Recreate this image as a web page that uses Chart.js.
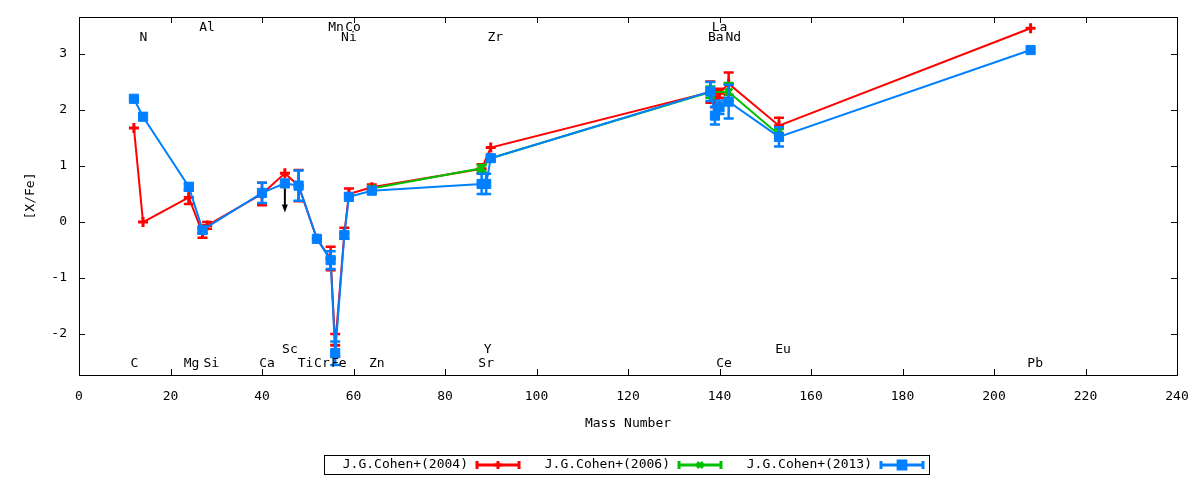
<!DOCTYPE html>
<html>
<head>
<meta charset="utf-8">
<script src="https://cdn.jsdelivr.net/npm/chart.js@4.4.0/dist/chart.umd.min.js"></script>
<style>
  html, body { margin: 0; padding: 0; background: #fff; }
</style>
</head>
<body>
<canvas id="chart" width="1200" height="480"></canvas>
<script>
// [X/Fe] against mass number, three abundance studies of one star

const FONT = '"DejaVu Sans Mono", monospace';

// J.G.Cohen+(2004)
const cohen2004Mass = [12, 14, 24, 27, 28, 40, 45, 48, 52, 55, 56, 58, 59, 64, 88, 90, 138, 139, 140, 142, 153, 208];
const cohen2004Val  = [1.68, 0.0, 0.44, -0.2, -0.06, 0.5, 0.87, 0.65, -0.3, -0.65, -2.2, -0.2, 0.5, 0.62, 0.95, 1.33, 2.32, 2.2, 2.3, 2.47, 1.72, 3.46];
const cohen2004Err  = [0, 0, 0.12, 0.08, 0.06, 0.2, 0, 0.28, 0, 0.21, 0.2, 0.1, 0.1, 0.05, 0.08, 0, 0.19, 0.15, 0.08, 0.2, 0.14, 0];

// J.G.Cohen+(2006)
const cohen2006Mass = [64, 88, 90, 138, 142, 153];
const cohen2006Val  = [0.6, 0.96, 1.14, 2.32, 2.32, 1.56];
const cohen2006Err  = [0, 0.06, 0, 0.1, 0.16, 0.1];

// J.G.Cohen+(2013)
const cohen2013Mass = [12, 14, 24, 27, 40, 45, 48, 52, 55, 56, 58, 59, 64, 88, 89, 90, 138, 139, 140, 142, 153, 208];
const cohen2013Val  = [2.2, 1.88, 0.63, -0.14, 0.52, 0.69, 0.65, -0.3, -0.68, -2.34, -0.23, 0.45, 0.56, 0.68, 0.68, 1.14, 2.33, 1.9, 2.05, 2.15, 1.52, 3.07];
const cohen2013Err  = [0, 0, 0.06, 0.05, 0.18, 0, 0.27, 0, 0.16, 0.21, 0, 0, 0, 0.18, 0.18, 0.05, 0.17, 0.16, 0.12, 0.3, 0.17, 0];

// upper limit (arrow) at Sc
const limitMass = [45];
const limitVal  = [0.6];

// element names written along top and bottom of the plot
const elemNames  = ['C', 'N', 'Mg', 'Al', 'Si', 'Ca', 'Sc', 'Ti', 'Cr', 'Mn', 'Fe', 'Ni', 'Co', 'Zn', 'Sr', 'Y', 'Zr', 'Ba', 'La', 'Ce', 'Nd', 'Eu', 'Pb'];
const elemLabelX = [12.1, 14.1, 24.6, 28.0, 28.9, 41.1, 46.1, 49.5, 53.1, 56.2, 56.8, 59.0, 59.9, 65.1, 89.0, 89.3, 91.0, 139.2, 140.0, 141.0, 143.0, 153.9, 209.0];
const elemLabelY = [-2.52, 3.3, -2.52, 3.47, -2.52, -2.52, -2.27, -2.52, -2.52, 3.47, -2.52, 3.3, 3.47, -2.52, -2.52, -2.27, 3.3, 3.3, 3.47, -2.52, 3.3, -2.27, -2.52];

const xTitle = 'Mass Number';
const yTitle = '[X/Fe]';

const toPoints = (xs, ys) => xs.map((x, i) => ({ x: x, y: ys[i] }));

const series = [
  { label: 'J.G.Cohen+(2004)', color: '#ff0000', style: 'cross',    radius: 5,   mass: cohen2004Mass, val: cohen2004Val, err: cohen2004Err, order: 3 },
  { label: 'J.G.Cohen+(2006)', color: '#00c000', style: 'crossRot', radius: 5,   mass: cohen2006Mass, val: cohen2006Val, err: cohen2006Err, order: 2 },
  { label: 'J.G.Cohen+(2013)', color: '#0080ff', style: 'rect',     radius: 6.5, mass: cohen2013Mass, val: cohen2013Val, err: cohen2013Err, order: 1 },
];

// keep the plot box exactly where the layout padding puts it
function noOverflow(s) {
  s.paddingTop = 0;
  s.paddingBottom = 0;
  s.paddingLeft = 0;
  s.paddingRight = 0;
}

// vertical error bars with caps, drawn just under each dataset
const errorBars = {
  id: 'errorBars',
  beforeDatasetDraw(chart, args) {
    const ds = chart.data.datasets[args.index];
    if (!ds.errors) return;
    const ctx = chart.ctx;
    const xs = chart.scales.x, ys = chart.scales.y;
    ctx.save();
    ctx.strokeStyle = ds.borderColor;
    ctx.lineWidth = 2.5;
    ds.data.forEach((p, i) => {
      const e = ds.errors[i];
      if (!e) return;
      const px = xs.getPixelForValue(p.x);
      const top = ys.getPixelForValue(p.y + e);
      const bot = ys.getPixelForValue(p.y - e);
      ctx.beginPath();
      ctx.moveTo(px, top); ctx.lineTo(px, bot);
      ctx.moveTo(px - 5, top); ctx.lineTo(px + 5, top);
      ctx.moveTo(px - 5, bot); ctx.lineTo(px + 5, bot);
      ctx.stroke();
    });
    ctx.restore();
  }
};

// gnuplot style frame with inward ticks on all four sides
const frame = {
  id: 'frame',
  beforeDatasetsDraw(chart) {
    const { ctx, chartArea: a } = chart;
    const xs = chart.scales.x, ys = chart.scales.y;
    ctx.save();
    ctx.strokeStyle = '#000';
    ctx.lineWidth = 1;
    ctx.strokeRect(a.left + 0.5, a.top + 0.5, a.right - a.left, a.bottom - a.top);
    ctx.beginPath();
    xs.ticks.forEach(t => {
      const px = Math.round(xs.getPixelForValue(t.value)) + 0.5;
      ctx.moveTo(px, a.bottom); ctx.lineTo(px, a.bottom - 6);
      ctx.moveTo(px, a.top); ctx.lineTo(px, a.top + 6);
    });
    ys.ticks.forEach(t => {
      if (Math.abs(t.value - Math.round(t.value)) > 1e-6) return;
      const py = Math.round(ys.getPixelForValue(t.value)) + 0.5;
      ctx.moveTo(a.left, py); ctx.lineTo(a.left + 6, py);
      ctx.moveTo(a.right, py); ctx.lineTo(a.right - 6, py);
    });
    ctx.stroke();

    // axis titles
    ctx.fillStyle = '#000';
    ctx.font = '13px ' + FONT;
    ctx.textAlign = 'center';
    ctx.textBaseline = 'middle';
    ctx.fillText(xTitle, (a.left + a.right) / 2, 424);
    ctx.translate(31, (a.top + a.bottom) / 2);
    ctx.rotate(-Math.PI / 2);
    ctx.fillText(yTitle, 0, 0);
    ctx.restore();
  },
  afterDatasetsDraw(chart) {
    const { ctx } = chart;
    const xs = chart.scales.x, ys = chart.scales.y;
    ctx.save();
    // element labels
    ctx.fillStyle = '#000';
    ctx.font = '13px ' + FONT;
    ctx.textAlign = 'center';
    ctx.textBaseline = 'middle';
    elemNames.forEach((n, i) => {
      ctx.fillText(n, xs.getPixelForValue(elemLabelX[i]), ys.getPixelForValue(elemLabelY[i]));
    });
    // upper limit arrow
    ctx.strokeStyle = '#000';
    ctx.lineWidth = 2;
    limitMass.forEach((m, i) => {
      const px = xs.getPixelForValue(m);
      const py = ys.getPixelForValue(limitVal[i]);
      ctx.beginPath();
      ctx.moveTo(px, py); ctx.lineTo(px, py + 17);
      ctx.stroke();
      ctx.beginPath();
      ctx.moveTo(px - 3, py + 16); ctx.lineTo(px + 3, py + 16); ctx.lineTo(px, py + 24);
      ctx.closePath();
      ctx.fill();
    });
    ctx.restore();
  }
};

// boxed legend under the plot: text first, then the line sample
const legendBox = {
  id: 'legendBox',
  afterDraw(chart) {
    const ctx = chart.ctx;
    ctx.save();
    ctx.strokeStyle = '#000';
    ctx.lineWidth = 1;
    ctx.strokeRect(324.5, 455.5, 605, 19);
    ctx.font = '13px ' + FONT;
    ctx.textAlign = 'right';
    ctx.textBaseline = 'middle';
    const textEnd = [468, 670, 872];
    const y = 465;
    series.forEach((s, i) => {
      ctx.fillStyle = '#000';
      ctx.fillText(s.label, textEnd[i], y);
      const x0 = textEnd[i] + 9, x1 = x0 + 42;
      ctx.strokeStyle = s.color;
      ctx.fillStyle = s.color;
      ctx.lineWidth = 3;
      ctx.beginPath();
      ctx.moveTo(x0, y); ctx.lineTo(x1, y);
      ctx.moveTo(x0, y - 4); ctx.lineTo(x0, y + 4);
      ctx.moveTo(x1, y - 4); ctx.lineTo(x1, y + 4);
      ctx.stroke();
      Chart.helpers.drawPoint(ctx, { pointStyle: s.style, radius: s.radius - 1, borderWidth: 3 }, (x0 + x1) / 2, y);
    });
    ctx.restore();
  }
};

new Chart(document.getElementById('chart'), {
  type: 'line',
  data: {
    datasets: series.map(s => ({
      label: s.label,
      data: toPoints(s.mass, s.val),
      errors: s.err,
      borderColor: s.color,
      backgroundColor: s.color,
      borderWidth: 2,
      pointStyle: s.style,
      pointRadius: s.radius,
      pointBorderWidth: s.style === 'rect' ? 1 : 3,
      pointHoverRadius: s.radius,
      tension: 0,
      fill: false,
      order: s.order,
    })),
  },
  options: {
    responsive: false,
    animation: false,
    layout: { padding: { top: 17, right: 23, left: 0, bottom: 0 } },
    plugins: {
      legend: { display: false },
      tooltip: { enabled: false },
    },
    scales: {
      x: {
        type: 'linear',
        min: 0,
        max: 240,
        afterFit: s => { s.height = 105; noOverflow(s); },
        grid: { display: false, drawTicks: false },
        border: { display: false },
        ticks: { stepSize: 20, padding: 14, color: '#000', font: { family: FONT, size: 13 } },
      },
      y: {
        type: 'linear',
        min: -2.73,
        max: 3.66,
        afterFit: s => { s.width = 79; noOverflow(s); },
        grid: { display: false, drawTicks: false },
        border: { display: false },
        ticks: {
          stepSize: 1,
          includeBounds: false,
          padding: 12,
          color: '#000',
          font: { family: FONT, size: 13 },
          callback: v => (Math.abs(v - Math.round(v)) < 1e-6 ? String(v) : ''),
        },
      },
    },
  },
  plugins: [errorBars, frame, legendBox],
});
</script>
</body>
</html>
